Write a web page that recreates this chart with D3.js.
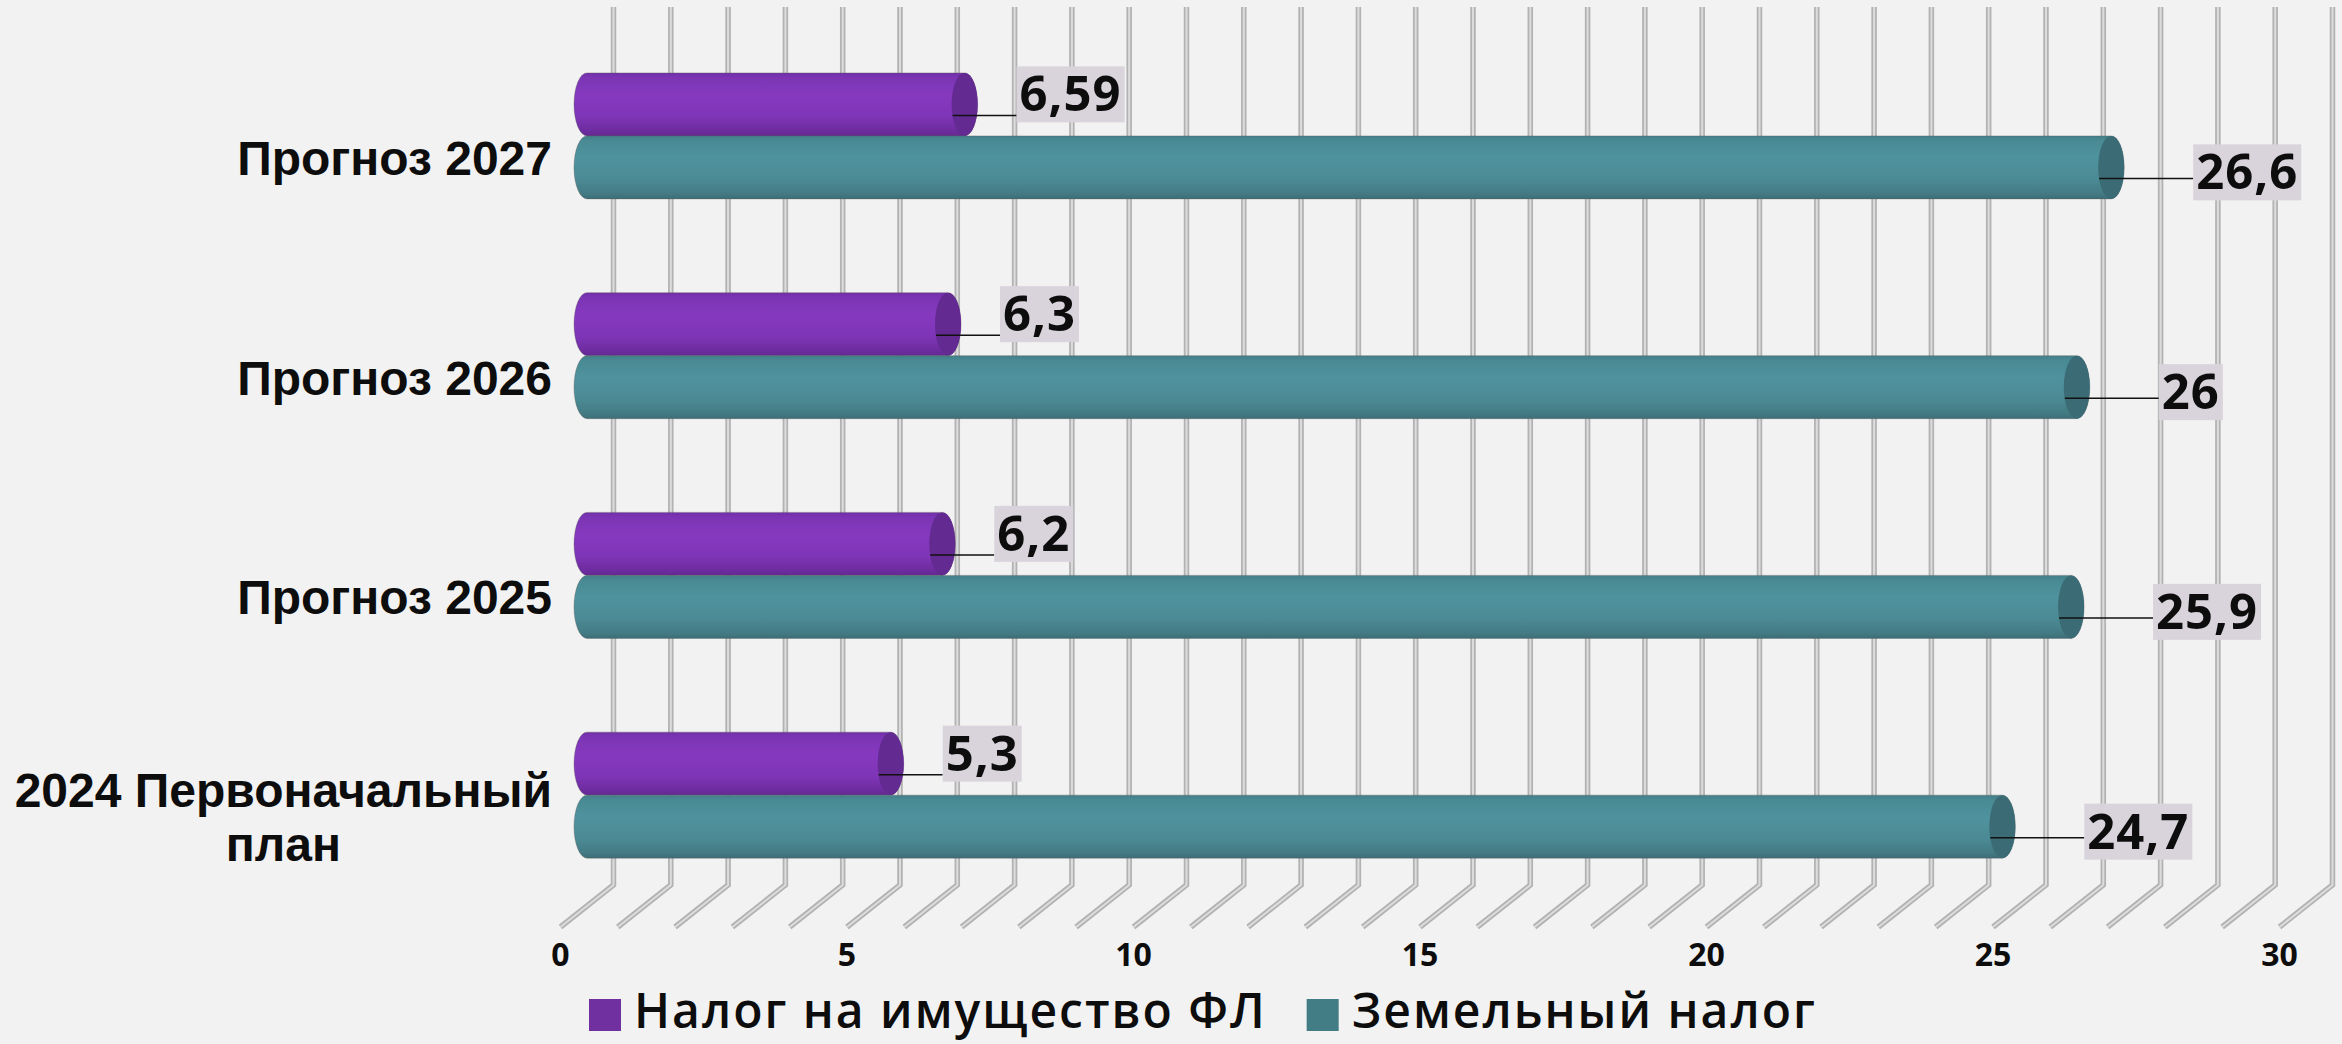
<!DOCTYPE html>
<html>
<head>
<meta charset="utf-8">
<script src="https://cdn.jsdelivr.net/npm/d3@7"></script>
<style>
  html, body { margin: 0; padding: 0; background: #f2f2f2; }
  svg { display: block; }
</style>
</head>
<body>
<svg id="chart" width="2342" height="1044"></svg>
<script>
// ---------------- DATA ----------------
const categories = ["Прогноз 2027", "Прогноз 2026", "Прогноз 2025", "2024 Первоначальный план"];
const seriesNames = ["Налог на имущество ФЛ", "Земельный налог"];
const propertyTax = [6.59, 6.3, 6.2, 5.3];
const landTax = [26.6, 26, 25.9, 24.7];
const tickValues = [0, 5, 10, 15, 20, 25, 30];
const gridValues = d3.range(0, 31, 1);

// ---------------- LAYOUT / STYLE ----------------
const W = 2342, H = 1044;
const svg = d3.select("#chart");
svg.append("rect").attr("width", W).attr("height", H).attr("fill", "#f2f2f2");

const x = d3.scaleLinear().domain([0, 30]).range([587, 2306]);
const y0 = d3.scaleBand().domain(categories).range([26, 905]).padding(0);
const y1 = d3.scaleBand().domain(seriesNames).range([-63, 63]).padding(0);

const depthDx = 26.5, depthDy = 21;     // half depth offset of the 3D box
const wallTop = 7, floorMid = 906;
const backX = v => x(v) + depthDx;
const frontX = v => x(v) - depthDx;
const backFloor = floorMid - depthDy, frontFloor = floorMid + depthDy;

const colors = {
  "Налог на имущество ФЛ": { legend: "#7030a0", cap: "#632a92",
    stops: [["0%", "#722fa8"], ["8%", "#7b35b4"], ["35%", "#8639bf"], ["70%", "#7f35b7"], ["92%", "#6d2c9e"], ["100%", "#642993"]] },
  "Земельный налог": { legend: "#427c85", cap: "#3b6c75",
    stops: [["0%", "#437f88"], ["8%", "#498a94"], ["35%", "#4f939e"], ["70%", "#4b8a94"], ["92%", "#437a83"], ["100%", "#3d6e76"]] }
};

const defs = svg.append("defs");
seriesNames.forEach((s, i) => {
  const g = defs.append("linearGradient").attr("id", "grad" + i)
    .attr("x1", 0).attr("y1", 0).attr("x2", 0).attr("y2", 1);
  colors[s].stops.forEach(st => g.append("stop").attr("offset", st[0]).attr("stop-color", st[1]));
});

// ---------------- GRID (back wall + floor) ----------------
const grid = svg.append("g");
const gridPath = v => `M${backX(v)},${wallTop} L${backX(v)},${backFloor} L${frontX(v)},${frontFloor}`;
grid.selectAll("path.gOuter").data(gridValues).join("path")
  .attr("class", "gOuter").attr("d", gridPath)
  .attr("fill", "none").attr("stroke", "#b2b2b2").attr("stroke-width", 5.5);
grid.selectAll("path.gInner").data(gridValues).join("path")
  .attr("class", "gInner").attr("d", gridPath)
  .attr("fill", "none").attr("stroke", "#dcdcdc").attr("stroke-width", 2);

// ---------------- AXIS LABELS ----------------
svg.append("g").selectAll("text").data(tickValues).join("text")
  .attr("x", d => frontX(d)).attr("y", 966)
  .attr("text-anchor", "middle")
  .attr("font-family", "'Open Sans', sans-serif").attr("font-weight", 700)
  .attr("font-size", 32).attr("fill", "#0d0d0d")
  .text(d => d);

// ---------------- CATEGORY LABELS ----------------
const catG = svg.append("g");
categories.forEach(c => {
  const cy = y0(c) + y0.bandwidth() / 2 + 22;
  const t = catG.append("text")
    .attr("font-family", "'Liberation Sans', Arial, sans-serif").attr("font-weight", 700)
    .attr("font-size", 48).attr("fill", "#0d0d0d").attr("text-anchor", "middle");
  const words = c.split(" ");
  const lines = [];
  let cur = [];
  const probe = t.append("tspan");
  words.forEach(w => {
    const trial = cur.concat([w]).join(" ");
    probe.text(trial);
    if (probe.node().getComputedTextLength() > 550 && cur.length) {
      lines.push(cur.join(" "));
      cur = [w];
    } else cur.push(w);
  });
  lines.push(cur.join(" "));
  probe.remove();
  let maxW = 0;
  lines.forEach(l => {
    const tmp = t.append("tspan").text(l);
    maxW = Math.max(maxW, tmp.node().getComputedTextLength());
    tmp.remove();
  });
  const rightEdge = 552;
  const cx = rightEdge - maxW / 2;
  const lh = 54;
  const firstBase = cy + 17 - (lines.length - 1) * lh / 2;
  lines.forEach((l, i) => {
    t.append("tspan").attr("x", cx).attr("y", firstBase + i * lh).text(l);
  });
});

// ---------------- BARS (cylinders) ----------------
const rx = 13;
const barData = [];
categories.forEach((c, i) => {
  barData.push({ cat: c, series: seriesNames[0], value: propertyTax[i], si: 0 });
  barData.push({ cat: c, series: seriesNames[1], value: landTax[i], si: 1 });
});
barData.forEach(d => {
  d.top = y0(d.cat) + y0.bandwidth() / 2 + y1(d.series);
  d.bottom = d.top + y1.bandwidth();
  d.mid = (d.top + d.bottom) / 2;
  d.ry = y1.bandwidth() / 2;
  d.x0 = x(0);
  d.x1 = x(d.value);
});

const bars = svg.append("g");
const barOrder = barData.slice().sort((a, b) => a.si - b.si);
barOrder.forEach(d => {
  const g = bars.append("g");
  g.append("path")
    .attr("d", `M${d.x0},${d.top} L${d.x1},${d.top} A${rx},${d.ry} 0 0 1 ${d.x1},${d.bottom} L${d.x0},${d.bottom} A${rx},${d.ry} 0 0 1 ${d.x0},${d.top} Z`)
    .attr("fill", `url(#grad${d.si})`)
    .attr("stroke", "rgba(90,90,90,0.35)").attr("stroke-width", 1);
  g.append("ellipse")
    .attr("cx", d.x1).attr("cy", d.mid).attr("rx", rx).attr("ry", d.ry)
    .attr("fill", colors[d.series].cap);
});

// ---------------- DATA LABELS ----------------
const fmt = v => String(v).replace(".", ",");
const labels = svg.append("g");
barData.forEach(d => {
  const txt = fmt(d.value);
  const t = labels.append("text")
    .attr("font-family", "'Open Sans', sans-serif").attr("font-weight", 700)
    .attr("font-size", 49).attr("letter-spacing", 1).attr("fill", "#0d0d0d").text(txt);
  const tw = t.node().getComputedTextLength();
  const bw = tw + 6, bh = 56;
  const boxLeft = d.si === 1 ? d.x1 + 82 : d.x1 + 52;
  const boxMid = d.si === 1 ? d.mid + 5 : d.mid - 10;
  const boxTop = boxMid - bh / 2;
  const lx0 = d.x1 - rx + 1, ly0 = d.mid + 11;
  const ly1 = Math.max(boxTop + 4, Math.min(boxTop + bh - 2, ly0));
  labels.insert("line", "text")
    .attr("x1", lx0).attr("y1", ly0).attr("x2", boxLeft).attr("y2", ly1)
    .attr("stroke", "#111").attr("stroke-width", 1.5);
  labels.insert("rect", "text")
    .attr("x", boxLeft).attr("y", boxTop).attr("width", bw).attr("height", bh)
    .attr("fill", "#d9d4db");
  t.attr("x", boxLeft + 3).attr("y", boxMid + 17);
});

// ---------------- LEGEND ----------------
const legend = svg.append("g");
let lx = 589;
seriesNames.forEach(s => {
  legend.append("rect").attr("x", lx).attr("y", 999).attr("width", 32).attr("height", 32)
    .attr("fill", colors[s].legend);
  const t = legend.append("text").attr("x", lx + 45).attr("y", 1028)
    .attr("font-family", "'Open Sans', sans-serif").attr("font-weight", 600)
    .attr("font-size", 48).attr("letter-spacing", 2).attr("fill", "#0d0d0d").text(s);
  lx = lx + 45 + t.node().getComputedTextLength() + 40;
});
</script>
</body>
</html>
